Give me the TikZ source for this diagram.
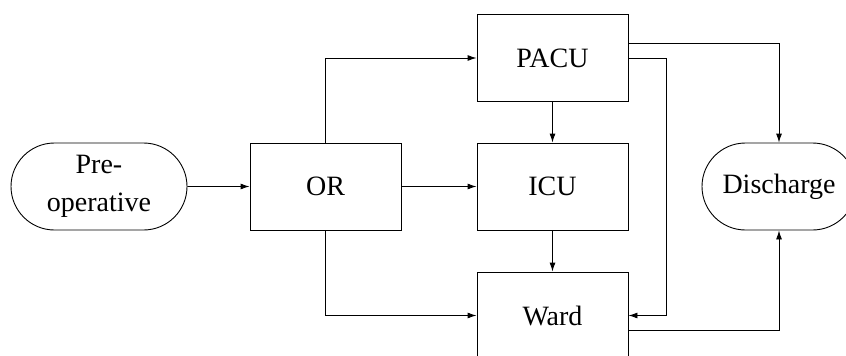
\documentclass[tikz,border=0pt]{standalone}
\usepackage{fontspec}
\setmainfont{Liberation Serif}
\usetikzlibrary{shapes.misc,arrows.meta}
\begin{document}
\begin{tikzpicture}[x=1pt,y=-1pt,line width=0.9pt,
  every node/.style={font=\fontsize{28}{38}\selectfont},
  box/.style={draw,minimum width=151pt,minimum height=87pt,inner sep=0pt},
  term/.style={draw,rounded rectangle,minimum width=176pt,minimum height=87pt,inner sep=0pt,align=center},
  arr/.style={-{Latex[length=9pt,width=6pt]}}]
\useasboundingbox (0,0) rectangle (846,356);
\node[term] (pre) at (99,186.5) {Pre-\\operative};
\node[box] (or) at (325.5,186.5) {OR};
\node[box] (pacu) at (552.5,58) {PACU};
\node[box] (icu) at (552.5,186.5) {ICU};
\node[box] (ward) at (552.5,315.5) {Ward};
\node[term,minimum width=154pt] (dis) at (779,186.5) {Discharge};
\draw[arr] (pre) -- (or);
\draw[arr] (or) -- (icu);
\draw[arr] (or.north) |- (pacu.west);
\draw[arr] (or.south) |- (ward.west);
\draw[arr] (pacu) -- (icu);
\draw[arr] (icu) -- (ward);
\draw[arr] ([yshift=15pt]pacu.east) -| (dis.north);
\draw[arr] (pacu.east) -- ++(38,0) |- (ward.east);
\draw[arr] ([yshift=-15pt]ward.east) -| (dis.south);
\end{tikzpicture}
\end{document}
